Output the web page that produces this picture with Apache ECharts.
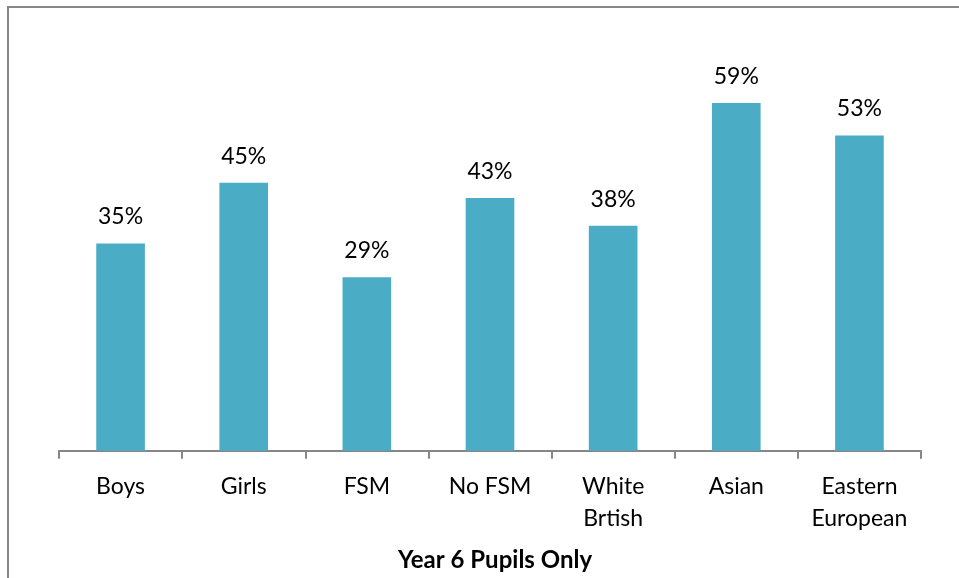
<!DOCTYPE html>
<html>
<head>
<meta charset="utf-8">
<script src="https://cdn.jsdelivr.net/npm/echarts@6/dist/echarts.min.js"></script>
<style>html,body{margin:0;padding:0;background:#fff;}#c{width:959px;height:578px;}</style>
</head>
<body>
<div id="c"></div>
<script>
var categories = ['Boys', 'Girls', 'FSM', 'No FSM', 'White\nBrtish', 'Asian', 'Eastern\nEuropean'];
var values = [35.1, 45.4, 29.4, 42.8, 38.1, 58.9, 53.4];
var titleText = 'Year 6 Pupils Only';

var chart = echarts.init(document.getElementById('c'), null, {renderer: 'canvas'});
var font = 'Lato, "Open Sans", "Liberation Sans", sans-serif';
chart.setOption({
  animation: false,
  backgroundColor: '#ffffff',
  grid: {left: 59, right: 38, top: 37.5, bottom: 127.3, containLabel: false},
  title: {
    text: titleText,
    left: 490, textAlign: 'center', top: 543,
    textStyle: {fontFamily: font, fontWeight: 'bold', fontSize: 24, color: '#000'}
  },
  xAxis: {
    type: 'category',
    data: categories,
    axisLine: {show: true, lineStyle: {color: '#868686', width: 2}},
    axisTick: {show: true, length: 8, lineStyle: {color: '#868686', width: 2}},
    axisLabel: {color: '#000', fontFamily: font, fontSize: 23, margin: 20, lineHeight: 32, interval: 0}
  },
  yAxis: {
    type: 'value', min: 0, max: 70, show: false,
    splitLine: {show: false}
  },
  series: [{
    type: 'bar',
    data: values,
    barWidth: '39.5%',
    itemStyle: {color: '#4BACC6'},
    label: {
      show: true, position: 'top', distance: 15,
      formatter: function (p) { return Math.round(p.value) + '%'; },
      color: '#000', fontFamily: font, fontSize: 23
    }
  }],
  graphic: [{
    type: 'rect',
    shape: {x: 8, y: 7, width: 1000, height: 1000},
    style: {fill: 'none', stroke: '#878787', lineWidth: 2},
    silent: true
  }]
});
</script>
</body>
</html>
